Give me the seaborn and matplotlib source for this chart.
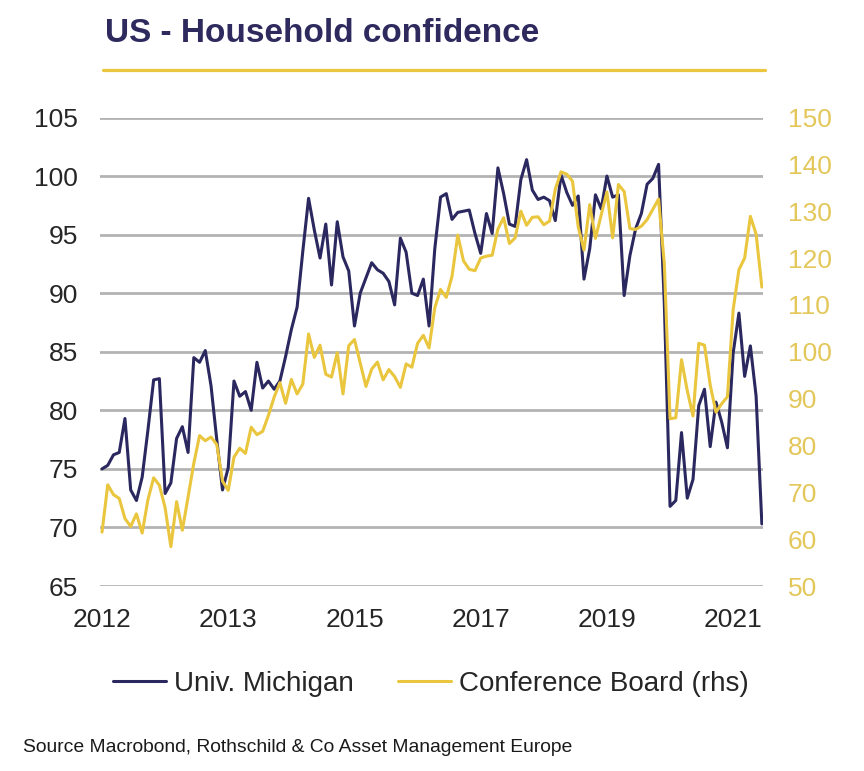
import numpy as np
import pandas as pd
import matplotlib
matplotlib.use("Agg")
import matplotlib.pyplot as plt
from matplotlib.lines import Line2D
import seaborn as sns

# ---- data (monthly, Jan 2012 - Aug 2021) ----
start_month = "2012-01-01"
michigan = [
    75.0, 75.3, 76.2, 76.4, 79.3, 73.2, 72.3, 74.3, 78.3, 82.6, 82.7, 72.9,
    73.8, 77.6, 78.6, 76.4, 84.5, 84.1, 85.1, 82.1, 77.5, 73.2, 75.1, 82.5,
    81.2, 81.6, 80.0, 84.1, 81.9, 82.5, 81.8, 82.5, 84.6, 86.9, 88.8, 93.6,
    98.1, 95.4, 93.0, 95.9, 90.7, 96.1, 93.1, 91.9, 87.2, 90.0, 91.3, 92.6,
    92.0, 91.7, 91.0, 89.0, 94.7, 93.5, 90.0, 89.8, 91.2, 87.2, 93.8, 98.2,
    98.5, 96.3, 96.9, 97.0, 97.1, 95.1, 93.4, 96.8, 95.1, 100.7, 98.5, 95.9,
    95.7, 99.7, 101.4, 98.8, 98.0, 98.2, 97.9, 96.2, 100.1, 98.6, 97.5, 98.3,
    91.2, 93.8, 98.4, 97.2, 100.0, 98.2, 98.4, 89.8, 93.2, 95.5, 96.8, 99.3,
    99.8, 101.0, 89.1, 71.8, 72.3, 78.1, 72.5, 74.1, 80.4, 81.8, 76.9, 80.7,
    79.0, 76.8, 84.9, 88.3, 82.9, 85.5, 81.2, 70.3,
]
conference_board = [
    61.5, 71.6, 69.5, 68.7, 64.4, 62.7, 65.4, 61.3, 68.4, 73.1, 71.5, 66.7,
    58.4, 68.0, 61.9, 69.0, 76.2, 82.1, 81.0, 81.8, 80.2, 72.4, 70.4, 77.5,
    79.4, 78.3, 83.9, 82.3, 83.0, 86.4, 90.3, 93.4, 89.0, 94.1, 91.0, 93.1,
    103.8, 98.8, 101.4, 95.2, 94.6, 99.8, 91.0, 101.3, 102.6, 97.6, 92.6, 96.3,
    97.8, 94.0, 96.2, 94.7, 92.4, 97.4, 96.7, 101.8, 103.5, 100.8, 109.4, 113.3,
    111.6, 116.1, 124.9, 119.4, 117.6, 117.3, 120.0, 120.4, 120.6, 126.2, 128.6, 123.1,
    124.3, 130.0, 127.0, 128.7, 128.8, 127.1, 127.9, 134.7, 138.4, 137.9, 136.4, 126.6,
    121.7, 131.4, 124.2, 129.2, 134.1, 124.3, 135.7, 134.2, 126.3, 126.1, 126.8, 128.2,
    130.4, 132.6, 118.8, 85.7, 85.9, 98.3, 91.7, 86.3, 101.8, 101.4, 92.9, 87.1,
    88.9, 90.4, 109.0, 117.5, 120.0, 128.9, 125.1, 113.8,
]
series_names = ["Univ. Michigan", "Conference Board (rhs)"]
xtick_labels = ["2012", "2013", "2015", "2017", "2019", "2021"]
left_ticks = [65, 70, 75, 80, 85, 90, 95, 100, 105]
right_ticks = [50, 60, 70, 80, 90, 100, 110, 120, 130, 140, 150]

months = pd.date_range(start_month, periods=len(michigan), freq="MS")
df = pd.DataFrame({"i": np.arange(len(months)), "date": months,
                   "mich": michigan, "cb": conference_board})
tick_pos = list(range(0, len(months), 22))

# ---- styling ----
NAVY = "#2B2860"
GOLD = "#E9C63E"
GOLD_TXT = "#E3C75A"
GRID = "#B3B3B3"
TXT = "#262626"

sns.set_theme(style="white")
plt.rcParams["font.family"] = ["Liberation Sans", "DejaVu Sans"]

W, H = 864, 771
fig = plt.figure(figsize=(W / 100, H / 100), dpi=100)
fig.patch.set_facecolor("white")

ax = fig.add_axes([100 / W, 1 - 586 / H, 663 / W, (586 - 117.5) / H])
ax.set_axisbelow(True)
sns.lineplot(data=df, x="i", y="mich", ax=ax, color=NAVY, lw=2.2,
             label=series_names[0], legend=False)
ax2 = ax.twinx()
sns.lineplot(data=df, x="i", y="cb", ax=ax2, color=GOLD, lw=2.2,
             label=series_names[1], legend=False)

ax.set_xlim(-0.35, 115.2)
ax.set_ylim(65, 105)
ax2.set_ylim(50, 150)
ax.set_yticks(left_ticks)
ax.set_yticklabels([str(t) for t in left_ticks])
ax2.set_yticks(right_ticks)
ax2.set_yticklabels([str(t) for t in right_ticks])
ax.set_xticks(tick_pos)
ax.set_xticklabels(xtick_labels)

ax.grid(axis="y", color=GRID, lw=2.0)
ax.grid(axis="x", visible=False)
ax2.grid(False)
for a in (ax, ax2):
    for s in a.spines.values():
        s.set_visible(False)
    a.set_xlabel("")
    a.set_ylabel("")
ax.tick_params(axis="y", length=0, pad=16, labelsize=19, labelcolor=TXT)
ax.tick_params(axis="x", length=0, pad=16, labelsize=19, labelcolor=TXT)
ax2.tick_params(axis="y", length=0, pad=18, labelsize=19, labelcolor=GOLD_TXT)

# title and gold rule
fig.text(105 / W, 1 - 42 / H, "US - Household confidence", fontsize=24,
         fontweight="bold", color="#2E2A5E", va="baseline", ha="left")
fig.add_artist(Line2D([103 / W, 765 / W], [1 - 70 / H, 1 - 70 / H],
                      color=GOLD, lw=2.3))

# legend
handles = [Line2D([], [], color=NAVY, lw=2.2), Line2D([], [], color=GOLD, lw=2.2)]
fig.legend(handles, series_names, loc="center", bbox_to_anchor=(0.499, 1 - 684 / H),
           ncol=2, frameon=False, fontsize=20, handlelength=1.9,
           handletextpad=0.3, columnspacing=1.6, labelcolor=TXT)

# source
fig.text(23 / W, 1 - 752 / H,
         "Source Macrobond, Rothschild & Co Asset Management Europe",
         fontsize=13.9, color="#1A1A1A", va="baseline", ha="left")

fig.savefig("out.png", dpi=100, facecolor="white")
